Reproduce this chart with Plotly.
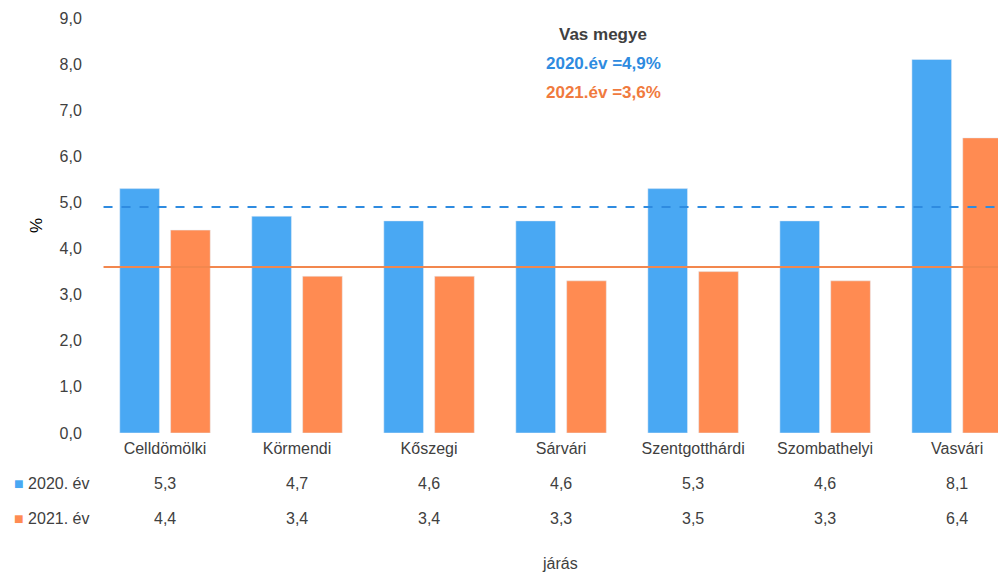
import plotly.graph_objects as go

categories = ["Celldömölki", "Körmendi", "Kőszegi", "Sárvári", "Szentgotthárdi", "Szombathelyi", "Vasvári"]
values_2020 = [5.3, 4.7, 4.6, 4.6, 5.3, 4.6, 8.1]
values_2021 = [4.4, 3.4, 3.4, 3.3, 3.5, 3.3, 6.4]
series_names = ["2020. év", "2021. év"]
county_2020 = 4.9
county_2021 = 3.6
y_ticks = [0, 1, 2, 3, 4, 5, 6, 7, 8, 9]

BLUE = "#49A8F3"
ORANGE = "#FF8B52"
TEXT = "#404040"
FONT = "Liberation Sans"

def fmt(v):
    return f"{v:.1f}".replace(".", ",")

fig = go.Figure()
fig.add_trace(go.Bar(x=categories, y=values_2020, name=series_names[0], marker_color=BLUE))
fig.add_trace(go.Bar(x=categories, y=values_2021, name=series_names[1], marker_color=ORANGE))

# county average lines
fig.add_shape(type="line", xref="paper", yref="y", x0=0.005, x1=1, y0=county_2020, y1=county_2020,
              line=dict(color="#2E8BE0", width=2, dash="dash"))
fig.add_shape(type="line", xref="paper", yref="y", x0=0.005, x1=1, y0=county_2021, y1=county_2021,
              line=dict(color="#F2874E", width=2))

ann = []
ann.append(dict(text="<b>Vas megye</b>", x=0.556, y=0.989, xref="paper", yref="paper",
                showarrow=False, font=dict(size=17, color=TEXT, family=FONT)))
ann.append(dict(text=f"<b>2020.év ={fmt(county_2020)}%</b>", x=0.556, y=0.919, xref="paper", yref="paper",
                showarrow=False, font=dict(size=17, color="#2E8BE0", family=FONT)))
ann.append(dict(text=f"<b>2021.év ={fmt(county_2021)}%</b>", x=0.556, y=0.849, xref="paper", yref="paper",
                showarrow=False, font=dict(size=17, color="#F07A3E", family=FONT)))

# data table rows
row_y = [-0.1465, -0.231]
row_colors = [BLUE, ORANGE]
for vals, ry, col, name in zip([values_2020, values_2021], row_y, row_colors, series_names):
    ann.append(dict(text=f"<span style='color:{col}'>■</span> {name}", x=-0.096, y=ry,
                    xref="paper", yref="paper", xanchor="left", showarrow=False,
                    font=dict(size=16, color=TEXT, family=FONT)))
    for c, v in zip(categories, vals):
        ann.append(dict(text=fmt(v), x=c, y=ry, xref="x", yref="paper", showarrow=False,
                        font=dict(size=16, color=TEXT, family=FONT)))

ann.append(dict(text="járás", x=0.508, y=-0.34, xref="paper", yref="paper", showarrow=False,
                font=dict(size=16, color=TEXT, family=FONT)))

fig.update_layout(
    width=998, height=567,
    margin=dict(l=91, r=0, t=10, b=142),
    plot_bgcolor="white", paper_bgcolor="white",
    barmode="group", bargap=0.23, bargroupgap=0.22,
    showlegend=False,
    separators=",.",
    font=dict(family=FONT, size=16, color=TEXT),
    annotations=ann,
    xaxis=dict(range=[-0.5, 6.37], showgrid=False, showline=False, zeroline=False, ticks="",
               ticklabelstandoff=4, tickfont=dict(size=16, color=TEXT)),
    yaxis=dict(range=[0, 9], tickvals=y_ticks, tickformat=".1f", showgrid=False, showline=False,
               zeroline=False, ticks="outside", ticklen=13, tickcolor="white",
               tickfont=dict(size=16, color=TEXT),
               title=dict(text="%", standoff=12, font=dict(size=17, color="black"))),
)

fig.write_html("out.html")
